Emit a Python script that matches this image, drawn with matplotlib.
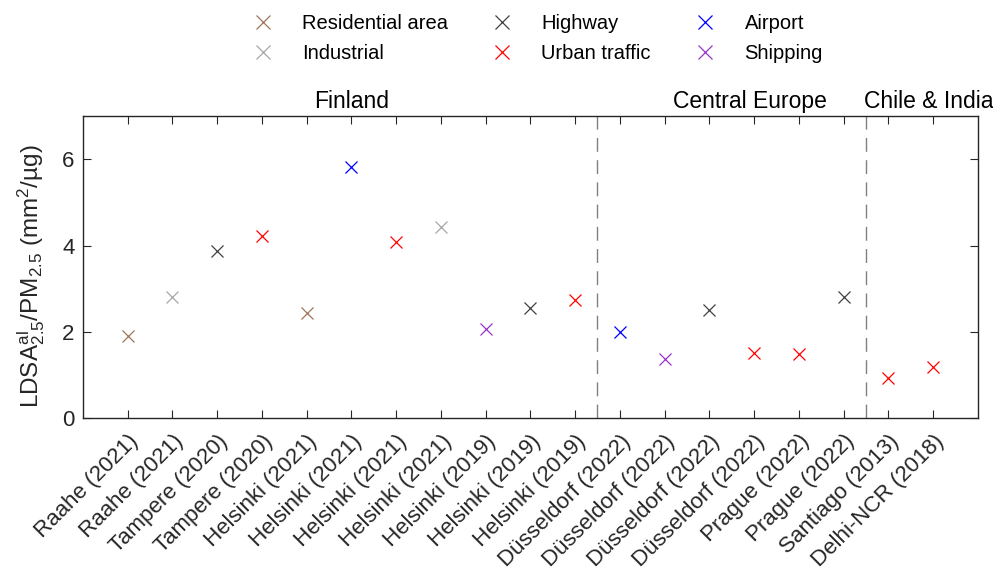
import numpy as np
import matplotlib
matplotlib.use('Agg')
import matplotlib.pyplot as plt
from matplotlib.lines import Line2D

plt.rcParams['font.family'] = ['Liberation Sans', 'DejaVu Sans']
plt.rcParams['mathtext.fontset'] = 'custom'
plt.rcParams['mathtext.rm'] = 'Liberation Sans'
plt.rcParams['mathtext.it'] = 'Liberation Sans:italic'

sites = ['Raahe (2021)', 'Raahe (2021)', 'Tampere (2020)', 'Tampere (2020)',
         'Helsinki (2021)', 'Helsinki (2021)', 'Helsinki (2021)', 'Helsinki (2021)',
         'Helsinki (2019)', 'Helsinki (2019)', 'Helsinki (2019)',
         'Düsseldorf (2022)', 'Düsseldorf (2022)', 'Düsseldorf (2022)', 'Düsseldorf (2022)',
         'Prague (2022)', 'Prague (2022)', 'Santiago (2013)', 'Delhi-NCR (2018)']
env = ['Residential area', 'Industrial', 'Highway', 'Urban traffic',
       'Residential area', 'Airport', 'Urban traffic', 'Industrial',
       'Shipping', 'Highway', 'Urban traffic',
       'Airport', 'Shipping', 'Highway', 'Urban traffic',
       'Urban traffic', 'Highway', 'Urban traffic', 'Urban traffic']
ratio = [1.90, 2.81, 3.87, 4.23, 2.44, 5.81, 4.08, 4.42, 2.06, 2.55, 2.73,
         2.00, 1.37, 2.51, 1.50, 1.48, 2.81, 0.92, 1.19]

categories = ['Residential area', 'Industrial', 'Highway', 'Urban traffic', 'Airport', 'Shipping']
colors = {'Residential area': '#a0735a', 'Industrial': '#a6a6a6', 'Highway': '#404040',
          'Urban traffic': '#ff0000', 'Airport': '#0000ff', 'Shipping': '#9933cc'}

regions = ['Finland', 'Central Europe', 'Chile & India']
region_pos = [6.0, 14.9, 18.9]
dividers = [11.5, 17.5]

fig = plt.figure(figsize=(9.93, 5.72), dpi=100)
ax = fig.add_axes([0.0836, 0.269, 0.901, 0.528])

x = np.arange(1, len(sites) + 1)
for xi, yi, e in zip(x, ratio, env):
    ax.plot(xi, yi, 'x', color=colors[e], ms=9, mew=0.9)

for d in dividers:
    ax.axvline(d, color='#808080', lw=1, dashes=(10, 6))

ax.set_xlim(0, 20)
ax.set_ylim(0, 7)
ax.set_yticks([0, 2, 4, 6])
ax.set_xticks(x)
ax.set_xticklabels(sites, rotation=45, ha='right', rotation_mode='anchor', fontsize=16)
ax.tick_params(axis='y', labelsize=16, pad=6)
ax.tick_params(axis='x', pad=9)
ax.tick_params(direction='in', top=True, right=True, length=6, width=0.8, colors='#262626')
for s in ax.spines.values():
    s.set_color('#262626')
    s.set_linewidth(1)
ax.set_ylabel(r'LDSA$^{\mathrm{al}}_{2.5}$/PM$_{2.5}$ (mm$^2$/µg)', fontsize=17.5,
              color='#262626')
ax.yaxis.set_label_coords(-0.04, 0.47)

for r, p in zip(regions, region_pos):
    ax.text(p, 7.08, r, ha='center', va='bottom', fontsize=16.5)

handles = [Line2D([], [], ls='none', marker='x', color=colors[c], ms=10, mew=0.9) for c in categories]
fig.legend(handles, categories, loc='center', bbox_to_anchor=(0.539, 0.933), ncol=3,
           frameon=False, fontsize=14.5, handlelength=1.5, handletextpad=1.2,
           columnspacing=1.95, labelspacing=0.55)

fig.savefig('out.png', dpi=100)
